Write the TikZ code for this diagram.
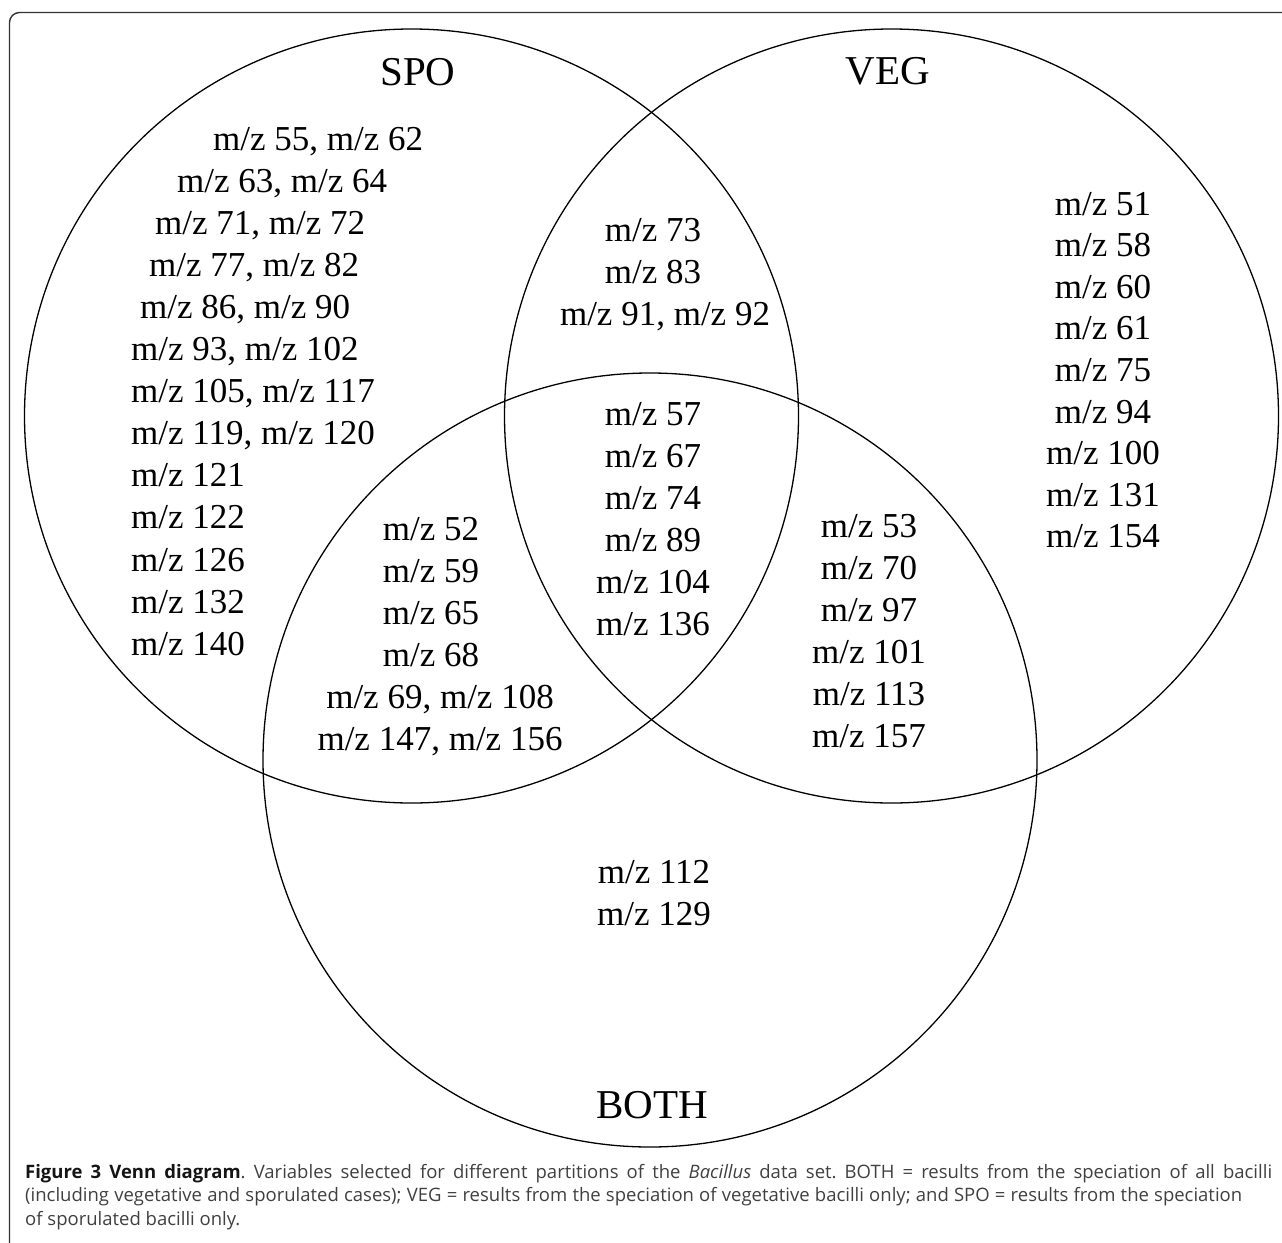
\documentclass[tikz,border=0pt]{standalone}
\usepackage{fontspec}
\setmainfont{Liberation Serif}
\newfontfamily\capfont{Open Sans}
\frenchspacing
\tikzset{
  frame/.style={draw=black!80, line width=1.4pt, rounded corners=10pt},
  venn/.style={draw=black, line width=1.3pt},
  mz/.style={font=\fontsize{35}{42}\selectfont, inner sep=0pt, anchor=base},
  mzl/.style={font=\fontsize{35}{42}\selectfont, inner sep=0pt, anchor=base west},
  setlabel/.style={font=\fontsize{41}{48}\selectfont, inner sep=0pt, anchor=base},
  captext/.style={font=\capfont\fontsize{18.5}{23}\selectfont, text=black!75, inner sep=0pt, anchor=base west}
}
\begin{document}
\begin{tikzpicture}[x=1pt,y=-1pt]
\useasboundingbox (0,0) rectangle (1282,1242);
\clip (0,0) rectangle (1282,1242);
\draw[frame] (9.5,12.5) rectangle (1310,1270);
% circles
\draw[venn] (411.5,416) circle[radius=387];
\draw[venn] (891.5,416) circle[radius=387];
\draw[venn] (650,760) circle[radius=387];
% set labels
\node[setlabel] (spo) at (418,85) {SPO};
\node[setlabel] (veg) at (888,84) {VEG};
\node[setlabel] (both) at (652,1118) {BOTH};
% SPO only
\node[mzl] (s0) at (213,150) {m/z 55, m/z 62};
\node[mzl] (s1) at (177,192.1) {m/z 63, m/z 64};
\node[mzl] (s2) at (155,234.2) {m/z 71, m/z 72};
\node[mzl] (s3) at (149,276.3) {m/z 77, m/z 82};
\node[mzl] (s4) at (140,318.4) {m/z 86, m/z 90};
\node[mzl] (s5) at (131,360.5) {m/z 93, m/z 102};
\node[mzl] (s6) at (131,402.6) {m/z 105, m/z 117};
\node[mzl] (s7) at (131,444.7) {m/z 119, m/z 120};
\node[mzl] (s8) at (131,486.8) {m/z 121};
\node[mzl] (s9) at (131,528.9) {m/z 122};
\node[mzl] (s10) at (131,571.0) {m/z 126};
\node[mzl] (s11) at (131,613.1) {m/z 132};
\node[mzl] (s12) at (131,655.2) {m/z 140};
% SPO & VEG
\node[mz] (sv0) at (653,241) {m/z 73};
\node[mz] (sv1) at (653,283) {m/z 83};
\node[mz] (sv2) at (665,325) {m/z 91, m/z 92};
% all three
\foreach \t [count=\i from 0] in {57,67,74,89,104,136}
  \node[mz] (c\i) at (653,{425+42*\i}) {m/z \t};
% SPO & BOTH
\node[mz] (sb0) at (431,540) {m/z 52};
\node[mz] (sb1) at (431,582) {m/z 59};
\node[mz] (sb2) at (431,624) {m/z 65};
\node[mz] (sb3) at (431,666) {m/z 68};
\node[mz] (sb4) at (440,708) {m/z 69, m/z 108};
\node[mz] (sb5) at (440,750) {m/z 147, m/z 156};
% VEG & BOTH
\foreach \t [count=\i from 0] in {53,70,97,101,113,157}
  \node[mz] (vb\i) at (869,{537+42*\i}) {m/z \t};
% VEG only
\foreach \t [count=\i from 0] in {51,58,60,61,75,94,100,131,154}
  \node[mz] (v\i) at (1103,{215+41.6*\i}) {m/z \t};
% BOTH only
\node[mz] (b0) at (654,883) {m/z 112};
\node[mz] (b1) at (654,925) {m/z 129};
% caption
\node[captext] (cap1) at (25,1178) {\makebox[1247pt][s]{{\color{black!92}\textbf{Figure 3 Venn diagram}}. Variables selected for different partitions of the \textit{Bacillus} data set. BOTH = results from the speciation of all bacilli}};
\node[captext] (cap2) at (25,1201.5) {\makebox[1217pt][s]{(including vegetative and sporulated cases); VEG = results from the speciation of vegetative bacilli only; and SPO = results from the speciation}};
\node[captext] (cap3) at (25,1225) {of sporulated bacilli only.};
\end{tikzpicture}
\end{document}
